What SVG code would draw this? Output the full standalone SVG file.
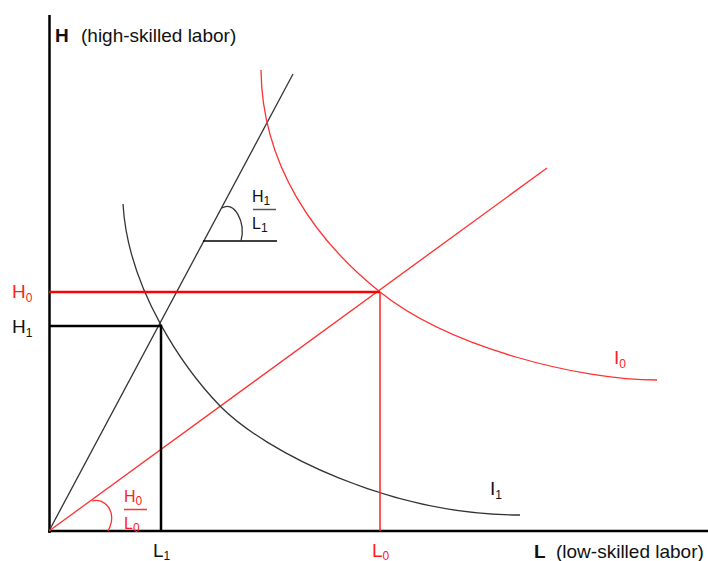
<svg xmlns="http://www.w3.org/2000/svg" width="708" height="561" viewBox="0 0 708 561">
<style>
.t{font-family:"Liberation Sans",Arial,sans-serif;font-size:19px;}
.b{font-weight:bold;}
.f{font-family:"Liberation Sans",Arial,sans-serif;font-size:16px;}
.s{font-size:12px;}
.red{fill:#ff2020;}
.blk{fill:#111;}
.thin{fill:none;stroke-width:1.3;}
</style>
<rect width="708" height="561" fill="#fff"/>
<g id="axes" stroke="#000" stroke-width="2.5" fill="none">
<line x1="49.5" y1="15" x2="49.5" y2="533"/>
<line x1="48" y1="531" x2="708" y2="531"/>
</g>
<g id="connectors">
<line x1="49" y1="531" x2="293" y2="74" stroke="#333" class="thin"/>
<line x1="49" y1="531" x2="547" y2="168" stroke="#ff3030" class="thin"/>
<path d="M123 204 C128 290 185 370 221 407 C266 452 390 515 520 515" stroke="#333" class="thin"/>
<path d="M261 70 C262 165 315 240 380 292 C450 348 580 380 657 380" stroke="#ff3030" class="thin"/>
<line x1="49" y1="292" x2="380" y2="292" stroke="#ff0000" stroke-width="2.5"/>
<line x1="380" y1="292" x2="380" y2="531" stroke="#ff2020" stroke-width="1.5"/>
<polyline points="49,326 161,326 161,531" fill="none" stroke="#000" stroke-width="2.5"/>
<line x1="203" y1="241" x2="277" y2="241" stroke="#000" stroke-width="1.5"/>
<path d="M222 208 C234 200 246 222 241 241" stroke="#333" class="thin"/>
<path d="M92 501 C105 497 118 512 108 531" stroke="#ff3030" class="thin"/>
<line x1="253" y1="209.5" x2="276" y2="209.5" stroke="#555" stroke-width="1.5"/>
<line x1="124" y1="509.5" x2="147" y2="509.5" stroke="#ff3030" stroke-width="1.5"/>
</g>
<g id="label-H">
<text class="t b blk" x="55" y="42">H</text>
<text class="t blk" x="81" y="42">(high-skilled labor)</text>
</g>
<g id="label-L">
<text class="t b blk" x="534" y="558">L</text>
<text class="t blk" x="556" y="558">(low-skilled labor)</text>
</g>
<g id="label-H0"><text class="t red" x="12" y="298">H<tspan class="s" dy="4">0</tspan></text></g>
<g id="label-H1"><text class="t blk" x="12" y="333">H<tspan class="s" dy="4">1</tspan></text></g>
<g id="label-L1"><text class="t blk" x="153" y="557">L<tspan class="s" dy="3">1</tspan></text></g>
<g id="label-L0"><text class="t red" x="372" y="557">L<tspan class="s" dy="3">0</tspan></text></g>
<g id="label-I0"><text class="t red" x="614" y="364">I<tspan class="s" dy="4">0</tspan></text></g>
<g id="label-I1"><text class="t blk" x="490" y="495">I<tspan class="s" dy="4">1</tspan></text></g>
<g id="frac-H1L1">
<text class="f blk" x="252" y="202">H<tspan class="s" dy="3">1</tspan></text>
<text class="f blk" x="252" y="229">L<tspan class="s" dy="3">1</tspan></text>
</g>
<g id="frac-H0L0">
<text class="f red" x="124" y="502">H<tspan class="s" dy="3">0</tspan></text>
<text class="f red" x="124" y="529">L<tspan class="s" dy="3">0</tspan></text>
</g>
</svg>
